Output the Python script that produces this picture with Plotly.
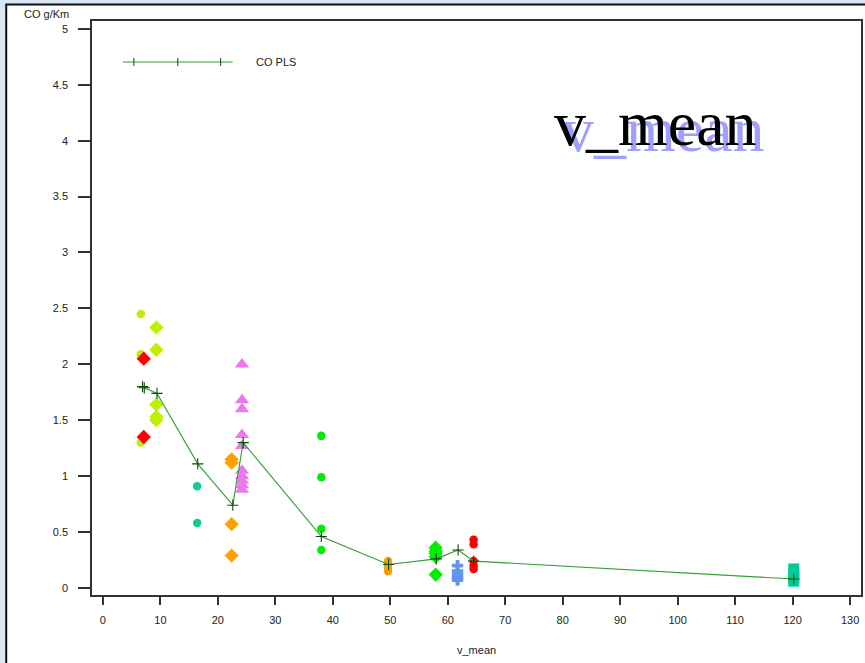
import plotly.graph_objects as go

# ---- data ----
x_s1 = [6.6, 6.6, 6.6]
y_s1 = [2.45, 2.09, 1.30]
x_s2 = [7.1, 7.1]
y_s2 = [2.05, 1.35]
x_s3 = [9.3, 9.3, 9.3, 9.3, 9.3]
y_s3 = [2.33, 2.13, 1.64, 1.53, 1.50]
x_s4 = [16.4, 16.4]
y_s4 = [0.91, 0.58]
x_s5 = [22.4, 22.4, 22.4, 22.4]
y_s5 = [1.15, 1.12, 0.57, 0.29]
x_s6 = [24.2] * 10
y_s6 = [2.0, 1.68, 1.60, 1.37, 1.27, 1.05, 1.00, 0.96, 0.92, 0.88]
x_s7 = [38.0, 38.0, 38.0, 38.0]
y_s7 = [1.36, 0.99, 0.53, 0.34]
x_s8 = [49.6, 49.6, 49.6, 49.6]
y_s8 = [0.24, 0.21, 0.18, 0.15]
x_s9 = [57.9, 57.9, 57.9, 57.9, 57.9]
y_s9 = [0.36, 0.33, 0.31, 0.28, 0.12]
x_s10 = [61.7, 61.7, 61.7, 61.7, 61.7]
y_s10 = [0.20, 0.15, 0.12, 0.09, 0.07]
x_s11 = [64.5, 64.5, 64.5, 64.5, 64.5]
y_s11 = [0.43, 0.39, 0.24, 0.20, 0.17]
x_s12 = [120.2, 120.2, 120.2, 120.2]
y_s12 = [0.17, 0.13, 0.09, 0.06]

x_pls = [6.9, 7.2, 9.4, 16.5, 22.6, 24.4, 38.0, 49.7, 58.0, 61.8, 64.5, 120.2]
y_pls = [1.80, 1.79, 1.74, 1.11, 0.74, 1.30, 0.46, 0.21, 0.26, 0.34, 0.24, 0.08]

x_ticks = list(range(0, 131, 10))
y_ticks = [0, 0.5, 1, 1.5, 2, 2.5, 3, 3.5, 4, 4.5, 5]
y_ticktext = ["0", "0.5", "1", "1.5", "2", "2.5", "3", "3.5", "4", "4.5", "5"]

# ---- layout geometry (pixels) ----
W, H = 865, 663
L, R, T, B = 92, 863, 21, 595


def px(xp):
    return (xp - L) / (R - L)


def py(yp):
    return (B - yp) / (B - T)


CHART = "#bff000"
series = [
    (x_s1, y_s1, "circle", CHART, 8.5),
    (x_s2, y_s2, "diamond", "#ff0000", 11),
    (x_s3, y_s3, "diamond", CHART, 11),
    (x_s4, y_s4, "circle", "#11cc99", 8.5),
    (x_s5, y_s5, "diamond", "#ffa000", 11),
    (x_s6, y_s6, "triangle-up", "#ee77ee", 12.5),
    (x_s7, y_s7, "circle", "#00ee00", 8.5),
    (x_s8, y_s8, "circle", "#ffa000", 8.5),
    (x_s9, y_s9, "diamond", "#00ee00", 11),
    (x_s10, y_s10, "cross", "#6495ed", 9.5),
    (x_s11, y_s11, "circle", "#ff0000", 8.5),
    (x_s12, y_s12, "square", "#00cc99", 11),
]

fig = go.Figure()
for xs, ys, sym, col, sz in series:
    fig.add_trace(go.Scatter(
        x=xs, y=ys, mode="markers", showlegend=False,
        marker=dict(symbol=sym, color=col, size=sz, line=dict(width=0)),
        hoverinfo="skip"))

fig.add_trace(go.Scatter(
    x=x_pls, y=y_pls, mode="lines+markers", name="CO PLS", showlegend=False,
    line=dict(color="#2f9f2f", width=1.1),
    marker=dict(symbol="cross-thin", size=8, line=dict(color="#0a4a0a", width=1.1))))

shapes = [
    # outer white panel
    dict(type="rect", xref="paper", yref="paper", layer="below",
         x0=px(6), x1=px(900), y0=py(700), y1=py(4.5),
         fillcolor="white", line=dict(color="#111111", width=2)),
    # legend line
    dict(type="line", xref="paper", yref="paper",
         x0=px(123), x1=px(233), y0=py(62), y1=py(62),
         line=dict(color="#2f9f2f", width=1.1)),
]
for xx in [134, 178, 221]:
    shapes.append(dict(type="line", xref="paper", yref="paper",
                       x0=px(xx), x1=px(xx), y0=py(58), y1=py(66),
                       line=dict(color="#0a4a0a", width=1)))

annotations = [
    dict(text="CO PLS", xref="paper", yref="paper", x=px(254), y=py(62),
         xanchor="left", yanchor="middle", showarrow=False,
         font=dict(family="Arial, Liberation Sans", size=11, color="#222222")),
    dict(text="CO g/Km", xref="paper", yref="paper", x=px(22), y=py(14),
         xanchor="left", yanchor="middle", showarrow=False,
         font=dict(family="Arial, Liberation Sans", size=11, color="#222222")),
    dict(text="v_mean", xref="paper", yref="paper", x=px(478), y=py(650),
         xanchor="center", yanchor="middle", showarrow=False,
         font=dict(family="Arial, Liberation Sans", size=11, color="#222222")),
    # title with drop shadow
    dict(text="v_mean", xref="paper", yref="paper", x=px(553), y=py(124),
         xanchor="left", yanchor="middle", showarrow=False,
         font=dict(family="Liberation Serif, Times New Roman", size=64,
                   color="#000000", shadow="8px 6px 0px #9f9fff")),
]

fig.update_layout(
    width=W, height=H,
    margin=dict(l=L, r=W - R, t=T, b=H - B, pad=0),
    paper_bgcolor="#d8e6f5",
    plot_bgcolor="white",
    shapes=shapes,
    annotations=annotations,
    showlegend=False,
    font=dict(family="Arial, Liberation Sans", size=11, color="#222222"),
)
fig.update_xaxes(
    range=[-1.9, 131.9], tickvals=x_ticks, ticks="outside", ticklen=8,
    tickcolor="#333333", tickwidth=1.5, showline=True, linecolor="#333333",
    linewidth=1.5, mirror=True, showgrid=False, zeroline=False,
    ticklabelstandoff=6, tickfont=dict(size=11, color="#222222"))
fig.update_yaxes(
    range=[-0.063, 5.07], tickvals=y_ticks, ticktext=y_ticktext, ticks="outside",
    ticklen=12, tickcolor="#333333", tickwidth=1.5, showline=True,
    linecolor="#333333", linewidth=1.5, mirror=True, showgrid=False,
    zeroline=False, ticklabelstandoff=8, tickfont=dict(size=11, color="#222222"))

fig.write_html("out.html")
